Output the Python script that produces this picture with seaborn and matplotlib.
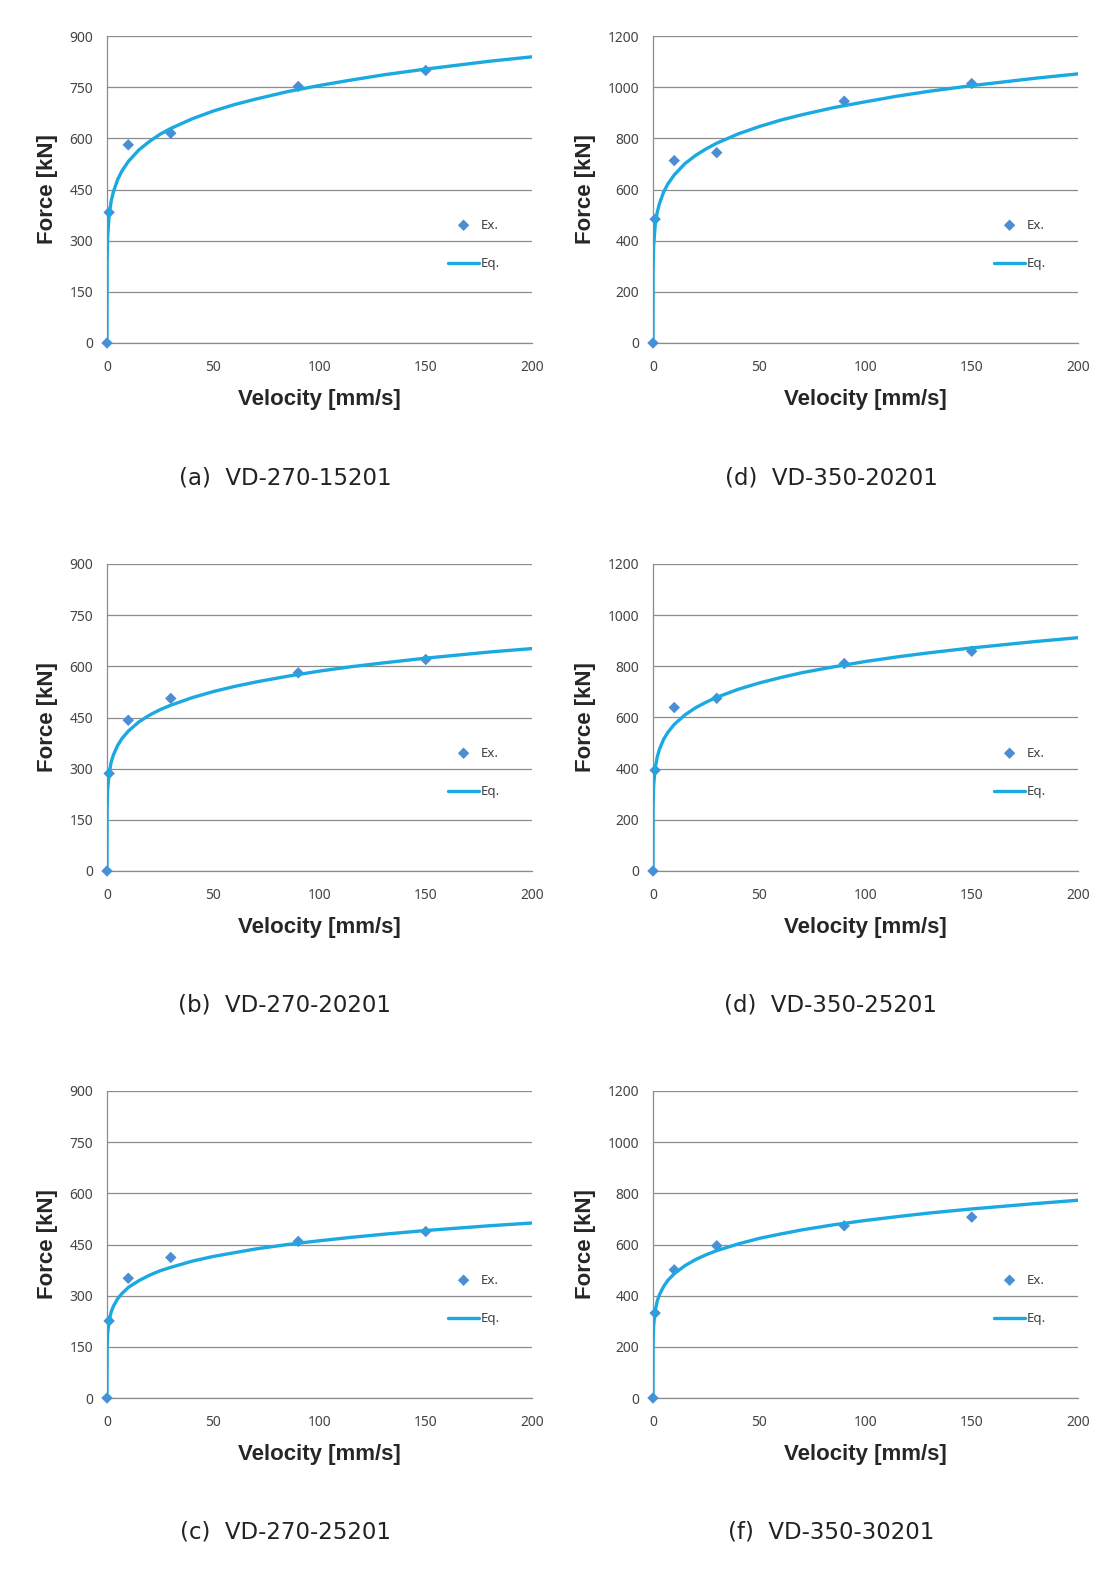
import matplotlib
matplotlib.use("Agg")
import matplotlib.pyplot as plt
import seaborn as sns
import pandas as pd

sns.set_style("white")
plt.rcParams['font.family'] = ['Noto Sans', 'DejaVu Sans']

# ---------------- data ----------------
EX_V = [0, 1, 10, 30, 90, 150]
CURVE_V = [0, 0.05, 0.3, 1, 2, 3, 5, 7, 10, 15, 20, 25, 30, 40, 50, 60, 70,
           85, 100, 115, 130, 150, 180, 200]

ex_a = [0, 383, 581, 615, 752, 799]
eq_a = [0, 238, 312, 375, 417, 443, 479, 504, 532, 566, 591, 612, 629, 657,
        680, 699, 715, 737, 755, 771, 786, 803, 826, 839]

ex_d1 = [0, 484, 713, 744, 945, 1014]
eq_d1 = [0, 286, 379, 458, 511, 544, 590, 622, 657, 701, 733, 759, 781, 817,
         846, 871, 892, 920, 943, 965, 984, 1006, 1035, 1052]

ex_b = [0, 286, 442, 506, 581, 620]
eq_b = [0, 180, 238, 287, 320, 340, 368, 388, 410, 437, 457, 473, 486, 508,
        526, 541, 554, 571, 586, 599, 610, 624, 642, 652]

ex_d2 = [0, 394, 639, 675, 811, 859]
eq_d2 = [0, 252, 333, 401, 446, 475, 515, 542, 573, 610, 638, 660, 679, 710,
         735, 756, 775, 798, 819, 837, 853, 872, 897, 912]

ex_c = [0, 226, 351, 412, 459, 488]
eq_c = [0, 143, 189, 227, 253, 269, 291, 306, 324, 344, 360, 373, 383, 401,
        415, 426, 437, 450, 461, 471, 480, 491, 505, 513]

ex_f = [0, 332, 501, 595, 673, 707]
eq_f = [0, 214, 282, 340, 379, 403, 436, 460, 486, 517, 541, 560, 576, 602,
        624, 641, 657, 677, 694, 709, 723, 739, 760, 773]

captions = ["(a)  VD-270-15201", "(d)  VD-350-20201",
            "(b)  VD-270-20201", "(d)  VD-350-25201",
            "(c)  VD-270-25201", "(f)  VD-350-30201"]
x_ticks = [0, 50, 100, 150, 200]
y_ticks_left = [0, 150, 300, 450, 600, 750, 900]
y_ticks_right = [0, 200, 400, 600, 800, 1000, 1200]

panels = [(ex_a, eq_a, y_ticks_left), (ex_d1, eq_d1, y_ticks_right),
          (ex_b, eq_b, y_ticks_left), (ex_d2, eq_d2, y_ticks_right),
          (ex_c, eq_c, y_ticks_left), (ex_f, eq_f, y_ticks_right)]

# ---------------- layout ----------------
W, H = 1114, 1570
fig = plt.figure(figsize=(W / 100, H / 100), dpi=100)
fig.patch.set_facecolor("white")

lefts = [107, 653]
tops = [36, 564, 1091]
aw, ah = 425, 307
cap_x = [285, 831]
cap_y = [478, 1005, 1532]

marker_color = "#4A8FD6"
line_color = "#1BA9E1"
grid_color = "#8C8C8C"
label_font = ["Liberation Sans", "DejaVu Sans"]

for i, (ex, eq, yt) in enumerate(panels):
    r, c = divmod(i, 2)
    ax = fig.add_axes([lefts[c] / W, 1 - (tops[r] + ah) / H, aw / W, ah / H])
    df_ex = pd.DataFrame({"V": EX_V, "F": ex})
    df_eq = pd.DataFrame({"V": CURVE_V, "F": eq})
    sns.scatterplot(data=df_ex, x="V", y="F", ax=ax, marker="D", s=34,
                    color=marker_color, edgecolor="none", label="Ex.",
                    zorder=3, clip_on=False)
    sns.lineplot(data=df_eq, x="V", y="F", ax=ax, color=line_color, lw=2.4,
                 sort=False, estimator=None, label="Eq.", zorder=4)
    ax.set_xlim(0, 200)
    ax.set_ylim(yt[0], yt[-1])
    ax.set_xticks(x_ticks)
    ax.set_yticks(yt)
    ax.yaxis.grid(True, color=grid_color, lw=0.9)
    ax.xaxis.grid(False)
    ax.set_axisbelow(True)
    for s in ["top", "right"]:
        ax.spines[s].set_visible(False)
    for s in ["left", "bottom"]:
        ax.spines[s].set_color(grid_color)
        ax.spines[s].set_linewidth(0.9)
    ax.tick_params(axis="both", which="major", direction="out", length=5,
                   width=0.9, color=grid_color, labelsize=10,
                   labelcolor="#454545", pad=5)
    ax.tick_params(axis="x", pad=7)
    ax.set_xlabel("Velocity [mm/s]", fontsize=16, fontweight="bold",
                  color="#262626", labelpad=10, family=label_font)
    ax.set_ylabel("Force [kN]", fontsize=16, fontweight="bold",
                  color="#262626", labelpad=8, family=label_font)
    leg = ax.legend(loc="upper left", bbox_to_anchor=(0.78, 0.435),
                    frameon=False, fontsize=9.5, labelspacing=1.95,
                    handlelength=2.4, handletextpad=0.1, borderpad=0.2)
    for t in leg.get_texts():
        t.set_color("#404040")
    fig.text(cap_x[c] / W, 1 - cap_y[r] / H, captions[i], ha="center",
             va="center", fontsize=16.5, color="#222222",
             family=["DejaVu Sans"])

fig.savefig("out.png", dpi=100, facecolor="white")
